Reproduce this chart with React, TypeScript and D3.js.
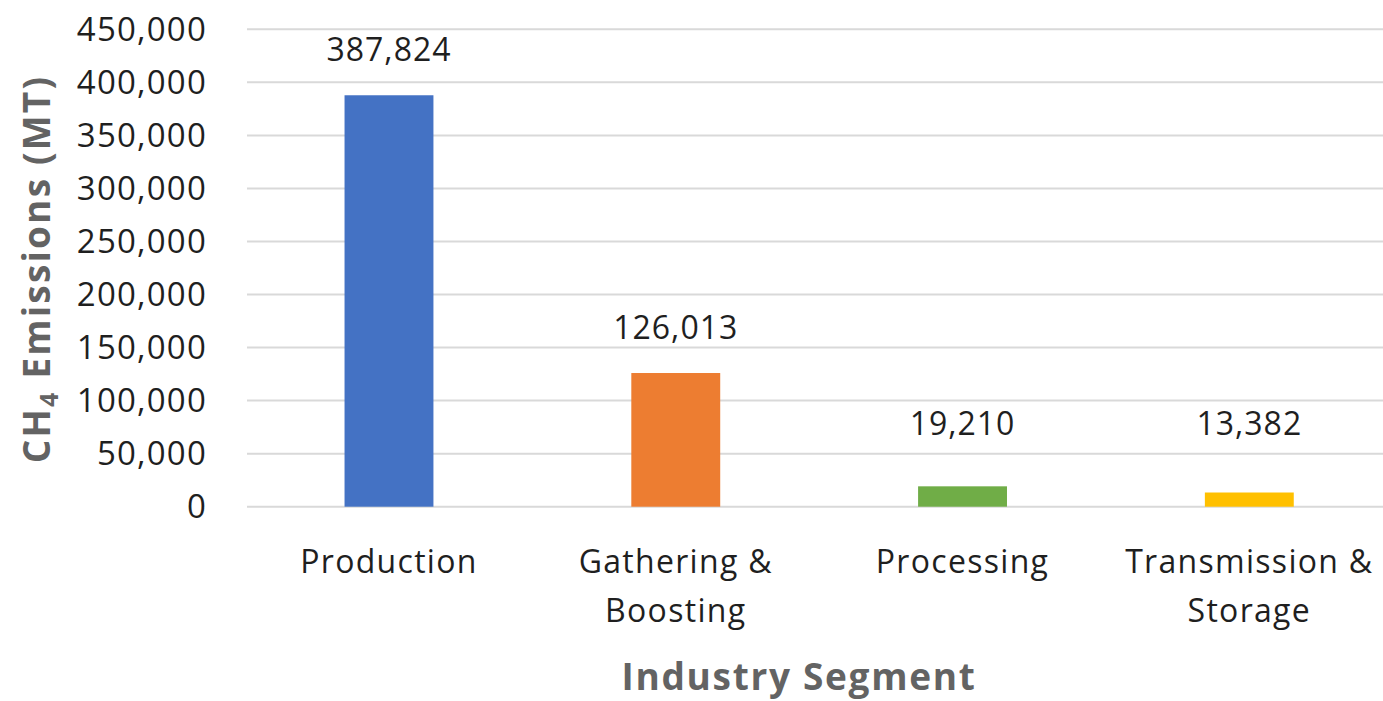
import React, { useEffect } from 'react';
import * as d3 from 'd3';

// data
const categories = ['Production', 'Gathering & Boosting', 'Processing', 'Transmission & Storage'];
const categoryLines = [['Production'], ['Gathering &', 'Boosting'], ['Processing'], ['Transmission &', 'Storage']];
const emissions = [387824, 126013, 19210, 13382];
const barColors = ['#4472C4', '#ED7D31', '#70AD47', '#FFC000'];
const yTicks = [0, 50000, 100000, 150000, 200000, 250000, 300000, 350000, 400000, 450000];

const W = 1383;
const H = 701;
const FONT = '"Open Sans", "Noto Sans", sans-serif';

export default function App() {
  useEffect(() => {
    document.body.style.margin = '0';
  }, []);

  const y = d3.scaleLinear().domain([0, 450000]).range([506.7, 29.3]);
  const x = d3.scaleBand<string>()
    .domain(categories)
    .range([245.6, 1392.7])
    .paddingInner(0.69)
    .paddingOuter(0.345);
  const fmt = d3.format(',');

  // labels sit above the bar, but never lower than a fixed floor
  const labelY = (v: number) => Math.min(y(v) - 34, y(68000));

  return (
    <svg width={W} height={H} style={{ display: 'block', background: '#fff' }} fontFamily={FONT}>
      {/* gridlines */}
      <g>
        {yTicks.map(t => (
          <line key={t} x1={247} x2={W} y1={y(t)} y2={y(t)} stroke="#d9d9d9" strokeWidth={2} />
        ))}
      </g>

      {/* y tick labels */}
      <g fontSize={33} fill="#1f1f1f" letterSpacing={1.2} textAnchor="end">
        {yTicks.map(t => (
          <text key={t} x={207} y={y(t) + 11.5}>{fmt(t)}</text>
        ))}
      </g>

      {/* bars */}
      <g>
        {categories.map((c, i) => (
          <rect
            key={c}
            x={x(c)}
            y={y(emissions[i])}
            width={x.bandwidth()}
            height={y(0) - y(emissions[i])}
            fill={barColors[i]}
          />
        ))}
      </g>

      {/* value labels */}
      <g fontSize={32} fill="#1f1f1f" letterSpacing={1} textAnchor="middle">
        {categories.map((c, i) => (
          <text key={c} x={(x(c) ?? 0) + x.bandwidth() / 2} y={labelY(emissions[i])}>
            {fmt(emissions[i])}
          </text>
        ))}
      </g>

      {/* category labels */}
      <g fontSize={32} fill="#1f1f1f" letterSpacing={1.3} textAnchor="middle">
        {categories.map((c, i) => (
          <text key={c} x={(x(c) ?? 0) + x.bandwidth() / 2} y={573}>
            {categoryLines[i].map((line, j) => (
              <tspan key={j} x={(x(c) ?? 0) + x.bandwidth() / 2} dy={j === 0 ? 0 : 49}>{line}</tspan>
            ))}
          </text>
        ))}
      </g>

      {/* axis titles */}
      <text x={799} y={690} textAnchor="middle" fontSize={37} fontWeight={700} fill="#636363" letterSpacing={1.7}>
        Industry Segment
      </text>
      <text
        transform={`translate(50,269) rotate(-90)`}
        textAnchor="middle"
        fontSize={37}
        fontWeight={700}
        fill="#636363"
        letterSpacing={2.2}
      >
        CH<tspan fontSize={25} dy={8}>4</tspan><tspan dy={-8}> Emissions (MT)</tspan>
      </text>
    </svg>
  );
}
